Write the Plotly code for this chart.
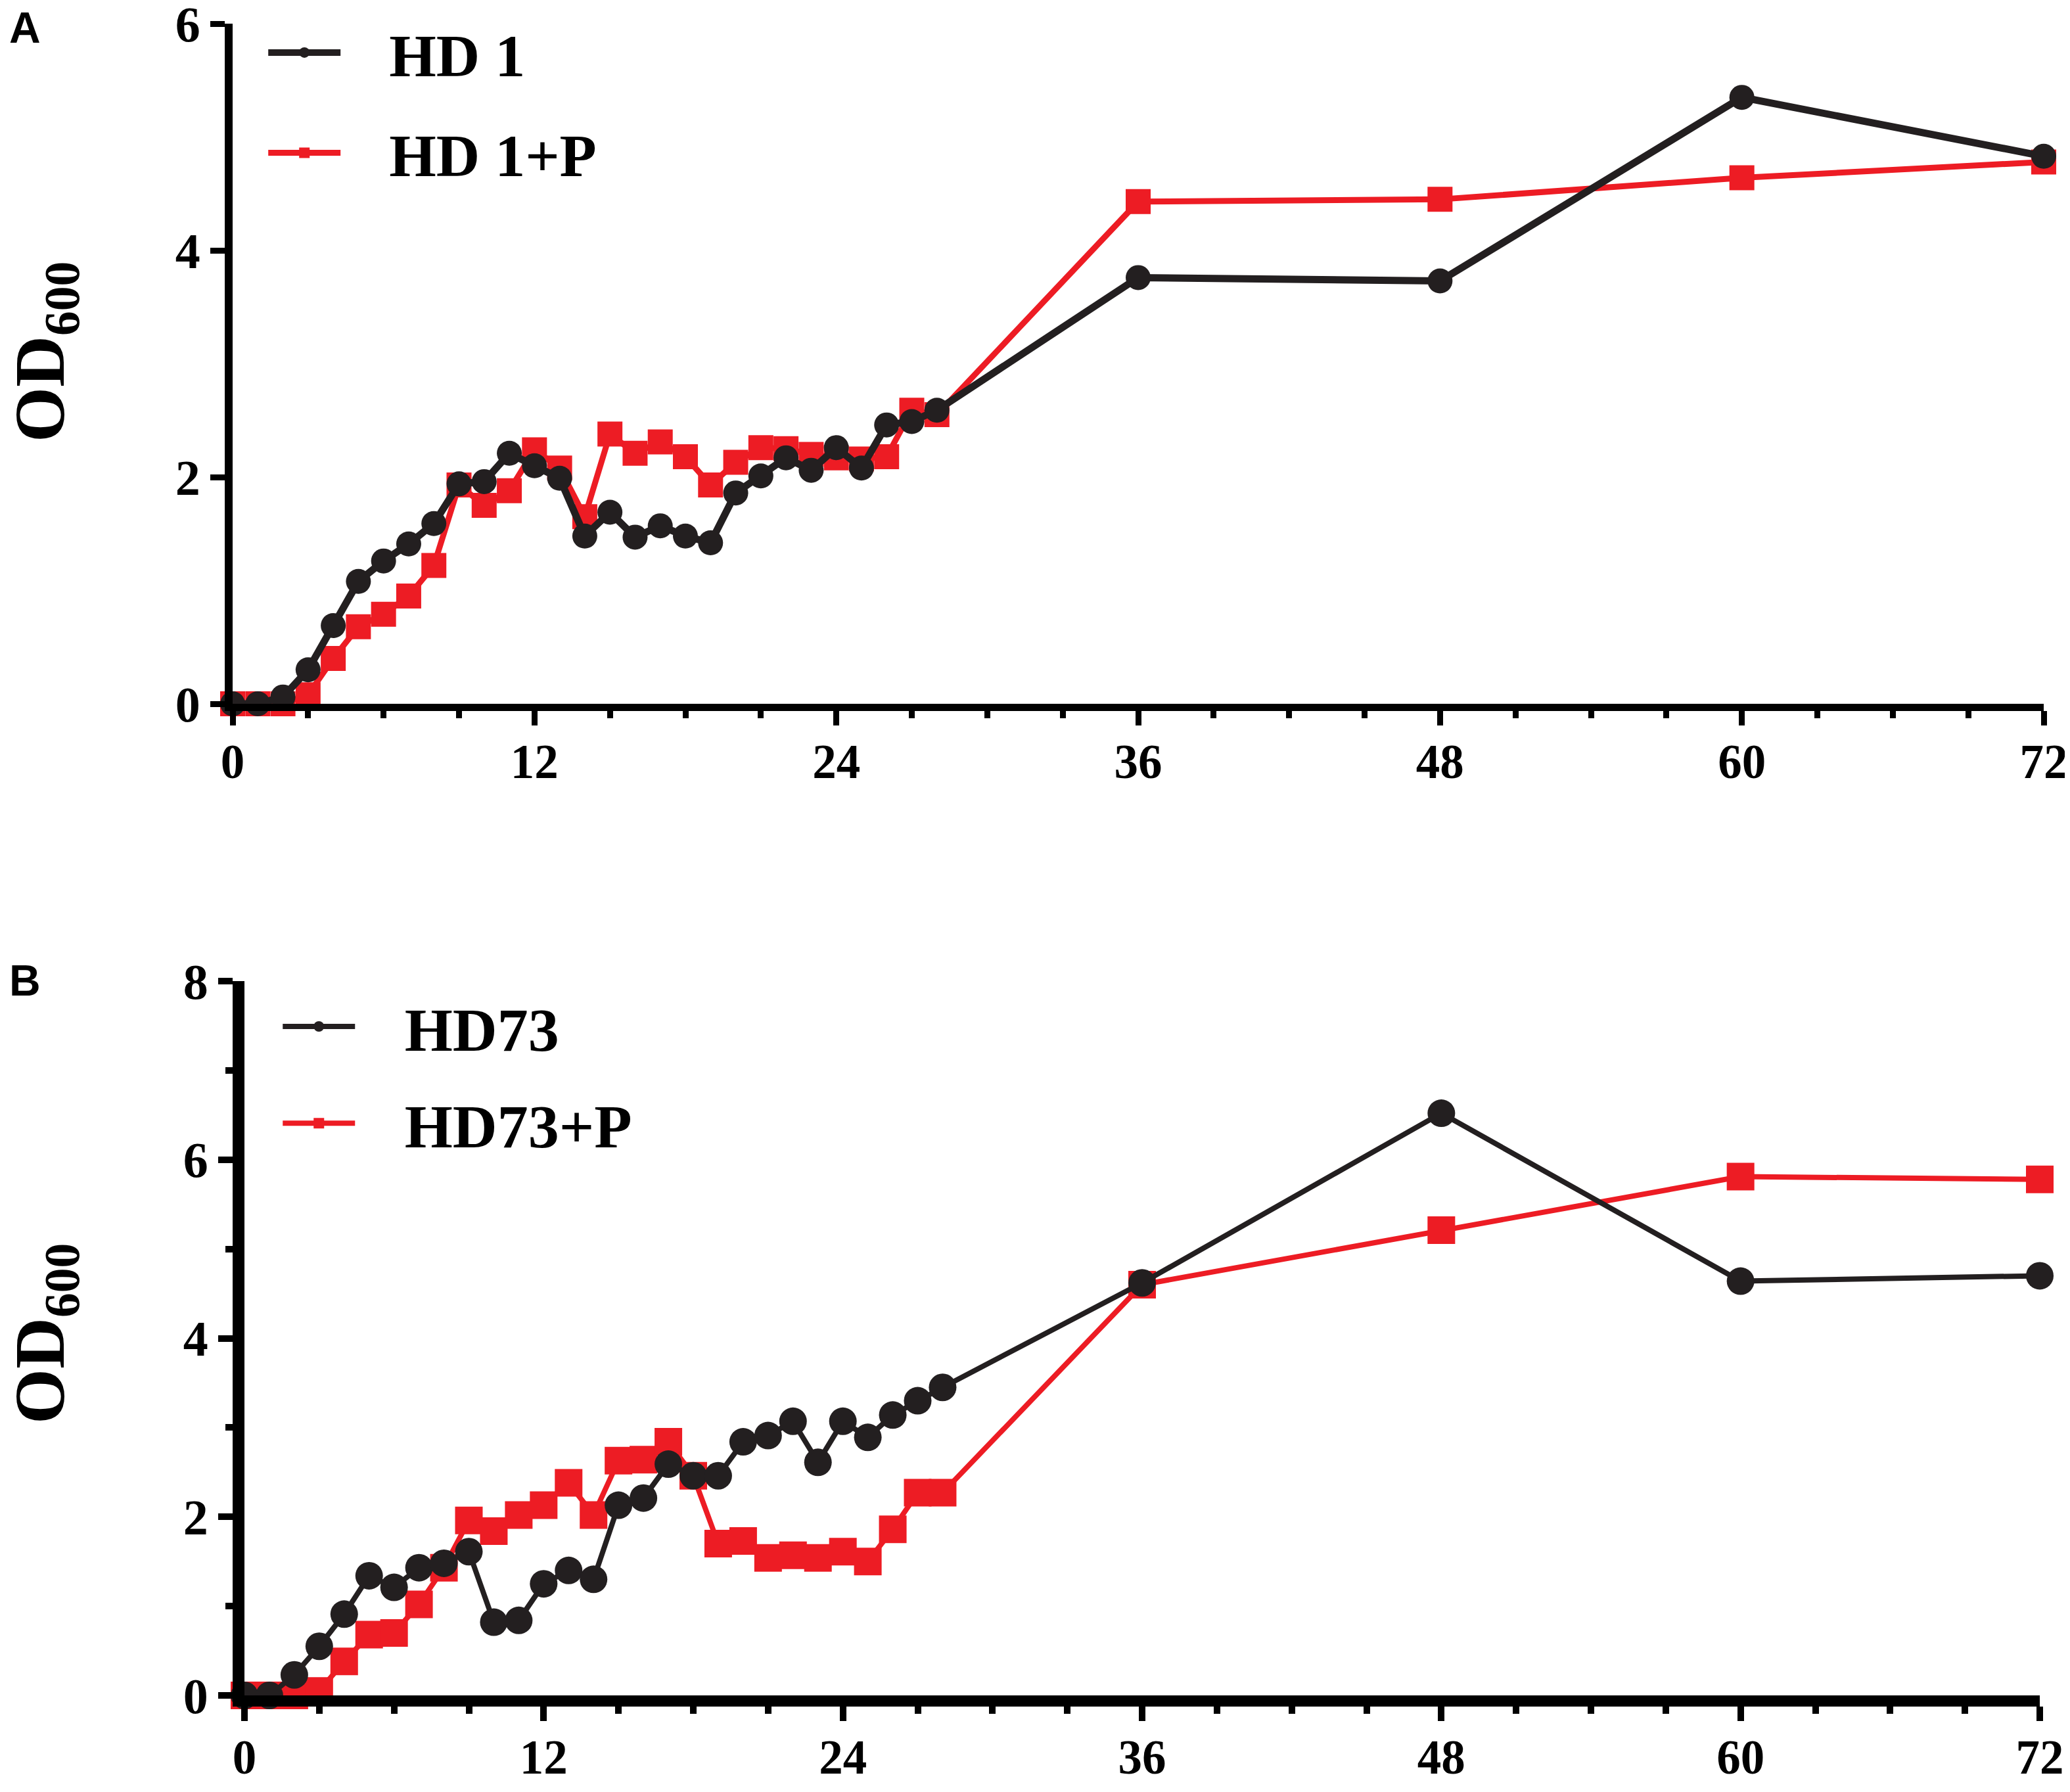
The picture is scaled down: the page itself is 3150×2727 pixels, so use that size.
import plotly.graph_objects as go

# hours sampled
hours = list(range(0, 29)) + [36, 48, 60, 72]

# panel A: HD 1 with / without P
hd1 = [0, 0, 0.06, 0.30, 0.69, 1.08, 1.26, 1.41, 1.59, 1.94, 1.96, 2.21, 2.10, 1.99,
       1.48, 1.69, 1.47, 1.57, 1.48, 1.42, 1.86, 2.01, 2.17, 2.06, 2.26, 2.08, 2.46,
       2.49, 2.59, 3.76, 3.73, 5.35, 4.83]
hd1_p = [0, 0, 0, 0.08, 0.40, 0.68, 0.79, 0.95, 1.22, 1.93, 1.75, 1.88, 2.24, 2.08,
         1.65, 2.38, 2.21, 2.31, 2.18, 1.93, 2.13, 2.26, 2.25, 2.20, 2.17, 2.16, 2.18,
         2.59, 2.55, 4.43, 4.45, 4.64, 4.78]

# panel B: HD73 with / without P
hd73 = [0, 0, 0.23, 0.55, 0.91, 1.34, 1.21, 1.43, 1.48, 1.61, 0.82, 0.84, 1.25, 1.40,
        1.30, 2.13, 2.21, 2.59, 2.46, 2.46, 2.84, 2.91, 3.07, 2.61, 3.07, 2.89, 3.14,
        3.30, 3.45, 4.62, 6.52, 4.64, 4.70]
hd73_p = [0, 0, 0, 0.05, 0.38, 0.68, 0.70, 1.02, 1.43, 1.96, 1.84, 2.02, 2.13, 2.38,
          2.02, 2.63, 2.64, 2.84, 2.46, 1.70, 1.73, 1.54, 1.57, 1.54, 1.61, 1.50, 1.86,
          2.27, 2.27, 4.60, 5.21, 5.81, 5.78]

x_ticks = [0, 12, 24, 36, 48, 60, 72]

BLACK = "#231f20"
RED = "#ed1c24"
SERIF = "Liberation Serif, Times New Roman, serif"
serif = dict(family=SERIF, color="black", weight="bold")
NB = "\u00a0\u00a0\u00a0"  # gap between legend key and label

W, H = 3150, 2727
DX, DY = -8 / W, 8 / H   # page body margin offset

def px_x(p):
    return p / W + DX

def px_y(p):
    return 1 - p / H + DY

fig = go.Figure()

# red first so the black series sits on top
fig.add_trace(go.Scatter(x=hours, y=hd1_p, name=NB + "HD 1+P", mode="lines+markers",
                         line=dict(color=RED, width=9),
                         marker=dict(symbol="square", size=38, color=RED),
                         cliponaxis=False, legendgroup="a2", legendrank=2, legend="legend"))
fig.add_trace(go.Scatter(x=hours, y=hd1, name=NB + "HD 1", mode="lines+markers",
                         line=dict(color=BLACK, width=11),
                         marker=dict(symbol="circle", size=38, color=BLACK),
                         cliponaxis=False, legendgroup="a1", legendrank=1, legend="legend"))

fig.add_trace(go.Scatter(x=hours, y=hd73_p, name=NB + "HD73+P", mode="lines+markers",
                         line=dict(color=RED, width=8),
                         marker=dict(symbol="square", size=42, color=RED),
                         cliponaxis=False, xaxis="x2", yaxis="y2",
                         legendgroup="b2", legendrank=2, legend="legend2"))
fig.add_trace(go.Scatter(x=hours, y=hd73, name=NB + "HD73", mode="lines+markers",
                         line=dict(color=BLACK, width=8),
                         marker=dict(symbol="circle", size=42, color=BLACK),
                         cliponaxis=False, xaxis="x2", yaxis="y2",
                         legendgroup="b1", legendrank=1, legend="legend2"))

def xax(domain, anchor, lw, tw):
    return dict(domain=domain, anchor=anchor, range=[0, 72], tickvals=x_ticks,
                showline=True, linecolor="black", linewidth=lw, showgrid=False,
                zeroline=False, ticks="outside", ticklen=22, tickwidth=tw,
                tickcolor="black", ticklabelstandoff=-8, automargin=False,
                ticklabeloverflow="allow",
                tickfont=dict(size=73, **serif),
                minor=dict(dtick=3, ticks="outside", ticklen=11, tickwidth=tw,
                           tickcolor="black", showgrid=False))

def yax(domain, anchor, rng, lw, tw, minor):
    d = dict(domain=domain, anchor=anchor, range=rng, dtick=2,
             showline=True, linecolor="black", linewidth=lw, showgrid=False,
             zeroline=False, ticks="outside", ticklen=22, tickwidth=tw,
             tickcolor="black", ticklabelstandoff=0, automargin=False,
             ticklabeloverflow="allow",
             tickfont=dict(size=76, **serif))
    if minor:
        d["minor"] = dict(dtick=1, ticks="outside", ticklen=11, tickwidth=tw,
                          tickcolor="black", showgrid=False)
    return d

sans = dict(size=66, family="Liberation Sans, Arial, sans-serif", color="black", weight="bold")

fig.update_layout(
    template="none",
    width=W, height=H,
    margin=dict(l=0, r=0, t=0, b=0),
    paper_bgcolor="white", plot_bgcolor="white",
    xaxis=xax([px_x(354), px_x(3110)], "y", 11, 9),
    yaxis=yax([px_y(1071), px_y(36)], "x", [0, 6], 12, 9, False),
    xaxis2=xax([px_x(372), px_x(3104)], "y2", 17, 10),
    yaxis2=yax([px_y(2580), px_y(1493)], "x2", [0, 8], 18, 10, True),
    legend=dict(x=0.128 + DX, y=0.995 + DY, xanchor="left", yanchor="top",
                font=dict(size=92, **serif), bgcolor="rgba(0,0,0,0)",
                itemwidth=110, traceorder="grouped", tracegroupgap=30),
    legend2=dict(x=0.135 + DX, y=0.452 + DY, xanchor="left", yanchor="top",
                 font=dict(size=94, **serif), bgcolor="rgba(0,0,0,0)",
                 itemwidth=110, traceorder="grouped", tracegroupgap=22),
    annotations=[
        dict(text="OD<sub>600</sub>", textangle=-90, x=px_x(68), y=px_y(536),
             xref="paper", yref="paper", xanchor="center", yanchor="middle",
             showarrow=False, font=dict(size=108, **serif)),
        dict(text="OD<sub>600</sub>", textangle=-90, x=px_x(68), y=px_y(2030),
             xref="paper", yref="paper", xanchor="center", yanchor="middle",
             showarrow=False, font=dict(size=108, **serif)),
        dict(text="A", x=px_x(12), y=px_y(42), xref="paper", yref="paper",
             xanchor="left", yanchor="middle", showarrow=False, font=sans),
        dict(text="B", x=px_x(12), y=px_y(1492), xref="paper", yref="paper",
             xanchor="left", yanchor="middle", showarrow=False, font=sans),
    ],
)

fig.write_html("out.html")
